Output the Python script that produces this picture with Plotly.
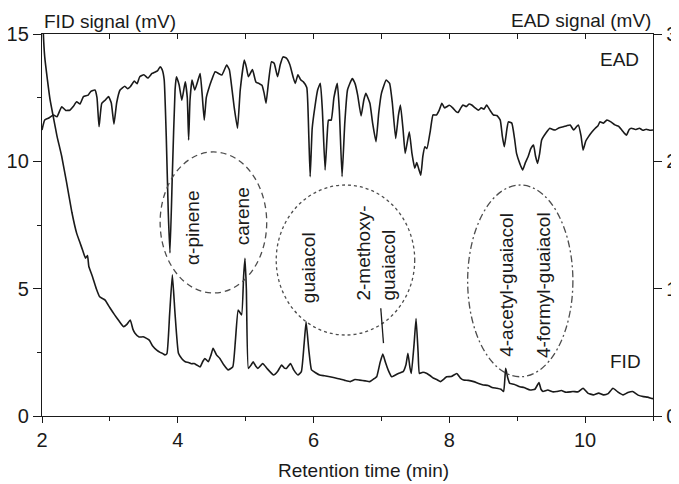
import plotly.graph_objects as go

# ---------------- data ----------------
fid_time = [2.00, 2.02, 2.04, 2.08, 2.12, 2.17, 2.22, 2.29, 2.36, 2.44, 2.51, 2.56, 2.60, 2.64, 2.67, 2.69,
            2.74, 2.80, 2.85, 2.90, 2.93, 3.00, 3.07, 3.13, 3.20, 3.25, 3.30, 3.34, 3.37, 3.43, 3.49, 3.54,
            3.58, 3.63, 3.69, 3.74, 3.78, 3.81, 3.84, 3.88, 3.92, 3.96, 4.01, 4.06, 4.11, 4.16, 4.20, 4.24,
            4.28, 4.33, 4.37, 4.40, 4.45, 4.49, 4.52, 4.57, 4.62, 4.68, 4.74, 4.81, 4.85, 4.89, 4.94, 4.97,
            4.99, 5.01, 5.04, 5.08, 5.11, 5.15, 5.18, 5.25, 5.32, 5.41, 5.47, 5.53, 5.57, 5.60, 5.66, 5.71,
            5.77, 5.82, 5.86, 5.89, 5.93, 5.97, 6.03, 6.09, 6.16, 6.24, 6.31, 6.39, 6.46, 6.54, 6.61, 6.68,
            6.76, 6.83, 6.90, 6.93, 6.98, 7.02, 7.06, 7.10, 7.15, 7.20, 7.25, 7.32, 7.36, 7.39, 7.42, 7.44,
            7.48, 7.51, 7.54, 7.56, 7.61, 7.67, 7.72, 7.77, 7.82, 7.87, 7.92, 7.96, 8.03, 8.11, 8.16, 8.21,
            8.28, 8.36, 8.43, 8.50, 8.57, 8.63, 8.70, 8.76, 8.80, 8.83, 8.86, 8.89, 8.95, 9.04, 9.10, 9.19,
            9.26, 9.32, 9.35, 9.38, 9.45, 9.52, 9.58, 9.65, 9.72, 9.82, 9.90, 9.97, 10.04, 10.12, 10.20, 10.27,
            10.34, 10.41, 10.48, 10.56, 10.63, 10.70, 10.78, 10.86, 10.92, 10.98, 11.00]
fid_signal = [17.0, 15.0, 14.1, 13.2, 12.4, 11.7, 11.0, 10.2, 9.2, 8.0, 7.18, 6.8, 6.5, 6.2, 6.3, 5.87,
              5.5, 5.0, 4.68, 4.6, 4.55, 4.25, 3.97, 3.75, 3.51, 3.6, 3.77, 3.4, 3.25, 3.1, 3.11, 3.05,
              2.98, 2.75, 2.59, 2.50, 2.45, 2.40, 2.45, 4.0, 5.54, 4.0, 2.46, 2.25, 2.13, 2.10, 2.05, 2.06,
              2.00, 1.93, 2.15, 2.26, 2.13, 2.40, 2.66, 2.40, 2.26, 2.00, 1.81, 1.93, 3.0, 4.16, 3.97, 5.5,
              6.19, 5.0, 1.87, 2.0, 2.13, 1.95, 1.87, 2.06, 1.85, 1.61, 1.75, 2.00, 1.88, 1.87, 2.06, 1.80,
              1.61, 1.74, 2.8, 3.70, 2.6, 1.81, 1.70, 1.61, 1.58, 1.54, 1.50, 1.45, 1.40, 1.35, 1.43, 1.41,
              1.38, 1.35, 1.48, 1.54, 2.1, 2.43, 2.1, 1.80, 1.54, 1.60, 1.67, 1.74, 2.0, 2.46, 1.9, 1.67,
              2.8, 3.83, 2.5, 1.67, 1.72, 1.67, 1.58, 1.48, 1.42, 1.35, 1.45, 1.54, 1.55, 1.67, 1.50, 1.41,
              1.40, 1.35, 1.28, 1.22, 1.20, 1.12, 1.09, 1.05, 0.96, 1.87, 1.50, 1.28, 1.25, 1.15, 1.12, 1.02,
              1.05, 1.31, 1.05, 0.96, 1.02, 0.95, 0.96, 1.00, 0.93, 0.96, 0.95, 1.09, 0.90, 0.83, 0.90, 0.83,
              0.88, 1.09, 0.95, 0.83, 0.92, 0.96, 0.82, 0.76, 0.74, 0.69, 0.68]

ead_time = [2.00, 2.04, 2.10, 2.17, 2.22, 2.29, 2.35, 2.41, 2.46, 2.51, 2.56, 2.61, 2.68, 2.72, 2.78, 2.81,
            2.84, 2.88, 2.93, 2.98, 3.02, 3.06, 3.10, 3.15, 3.22, 3.26, 3.30, 3.36, 3.40, 3.44, 3.50, 3.56,
            3.62, 3.66, 3.70, 3.74, 3.77, 3.80, 3.83, 3.86, 3.885, 3.92, 3.96, 3.98, 4.02, 4.06, 4.11, 4.14,
            4.16, 4.18, 4.21, 4.25, 4.30, 4.33, 4.36, 4.39, 4.42, 4.45, 4.50, 4.55, 4.60, 4.65, 4.72, 4.76,
            4.80, 4.83, 4.88, 4.92, 4.98, 5.01, 5.04, 5.10, 5.15, 5.20, 5.24, 5.27, 5.30, 5.34, 5.38, 5.42,
            5.47, 5.51, 5.55, 5.60, 5.65, 5.70, 5.73, 5.77, 5.81, 5.85, 5.90, 5.93, 5.95, 5.98, 6.02, 6.06,
            6.10, 6.13, 6.17, 6.20, 6.22, 6.26, 6.30, 6.35, 6.38, 6.42, 6.46, 6.50, 6.57, 6.61, 6.65, 6.70,
            6.74, 6.77, 6.83, 6.87, 6.92, 6.96, 7.00, 7.07, 7.12, 7.16, 7.21, 7.25, 7.28, 7.32, 7.35, 7.41,
            7.45, 7.49, 7.52, 7.55, 7.58, 7.61, 7.64, 7.67, 7.72, 7.76, 7.81, 7.85, 7.89, 7.93, 7.96, 8.00,
            8.05, 8.10, 8.13, 8.17, 8.20, 8.25, 8.29, 8.33, 8.38, 8.43, 8.47, 8.51, 8.55, 8.60, 8.65, 8.70,
            8.75, 8.78, 8.81, 8.85, 8.87, 8.92, 8.96, 8.99, 9.04, 9.08, 9.12, 9.16, 9.20, 9.24, 9.27, 9.30,
            9.33, 9.36, 9.42, 9.48, 9.52, 9.56, 9.62, 9.68, 9.73, 9.78, 9.83, 9.87, 9.90, 9.94, 9.97, 10.01,
            10.05, 10.10, 10.15, 10.19, 10.22, 10.27, 10.32, 10.38, 10.44, 10.49, 10.54, 10.58, 10.61, 10.65,
            10.68, 10.74, 10.80, 10.85, 10.90, 10.95, 11.00]
ead_signal = [2.246, 2.324, 2.340, 2.364, 2.350, 2.428, 2.400, 2.402, 2.430, 2.468, 2.450, 2.508, 2.520, 2.550, 2.560, 2.500,
              2.272, 2.456, 2.480, 2.508, 2.460, 2.292, 2.460, 2.560, 2.590, 2.570, 2.586, 2.630, 2.610, 2.664, 2.680, 2.654,
              2.690, 2.700, 2.710, 2.742, 2.720, 2.640, 2.200, 1.600, 1.280, 1.900, 2.560, 2.664, 2.600, 2.480, 2.624, 2.500,
              2.168, 2.480, 2.638, 2.560, 2.640, 2.690, 2.520, 2.324, 2.500, 2.560, 2.640, 2.704, 2.690, 2.678, 2.756, 2.720,
              2.560, 2.428, 2.260, 2.560, 2.796, 2.740, 2.664, 2.720, 2.624, 2.610, 2.598, 2.540, 2.456, 2.640, 2.782, 2.770,
              2.664, 2.760, 2.820, 2.810, 2.760, 2.660, 2.612, 2.680, 2.640, 2.624, 2.580, 2.200, 1.880, 2.260, 2.428, 2.560,
              2.612, 2.400, 1.932, 2.200, 2.324, 2.324, 2.500, 2.612, 2.400, 1.880, 2.300, 2.560, 2.650, 2.612, 2.520, 2.356,
              2.480, 2.534, 2.456, 2.300, 2.154, 2.380, 2.534, 2.638, 2.612, 2.460, 2.180, 2.360, 2.442, 2.240, 2.062, 2.232,
              2.060, 1.946, 1.990, 1.940, 1.892, 2.040, 2.114, 2.100, 2.240, 2.364, 2.364, 2.400, 2.456, 2.420, 2.428, 2.440,
              2.420, 2.390, 2.384, 2.420, 2.442, 2.430, 2.450, 2.442, 2.420, 2.402, 2.420, 2.410, 2.442, 2.400, 2.364, 2.360,
              2.324, 2.200, 2.114, 2.260, 2.310, 2.300, 2.180, 2.062, 1.980, 1.932, 1.990, 2.036, 2.100, 2.128, 2.040, 1.984,
              2.060, 2.168, 2.220, 2.260, 2.250, 2.246, 2.264, 2.272, 2.280, 2.286, 2.246, 2.270, 2.286, 2.200, 2.088, 2.160,
              2.194, 2.230, 2.260, 2.280, 2.310, 2.300, 2.324, 2.310, 2.286, 2.276, 2.246, 2.220, 2.206, 2.250,
              2.260, 2.250, 2.260, 2.244, 2.252, 2.244, 2.246]

x_tick_labels = ["2", "4", "6", "8", "10"]
x_tick_values = [2, 4, 6, 8, 10]
fid_tick_values = [0, 5, 10, 15]
ead_tick_values = [0, 1, 2, 3]

compound_labels = ["α-pinene", "carene", "guaiacol", "2-methoxy-<br>guaiacol",
                   "4-acetyl-guaiacol", "4-formyl-guaiacol"]
label_x = [4.215, 4.95, 5.92, 6.92, 8.83, 9.38]
label_y = [7.40, 7.85, 5.81, 6.38, 5.14, 5.14]

# ellipse groups: (x0, x1, y0, y1, dash)
groups_x0 = [3.74, 5.45, 8.27]
groups_x1 = [5.31, 7.49, 9.82]
groups_y0 = [4.83, 3.18, 1.54]
groups_y1 = [10.37, 9.07, 9.07]
groups_dash = ["6px,4px", "dot", "7px,3px,2px,3px"]

FONT = "Liberation Sans, Arial, sans-serif"
INK = "#1a1a1a"

fig = go.Figure()
fig.add_trace(go.Scatter(x=fid_time, y=fid_signal, mode="lines", name="FID",
                         line=dict(color=INK, width=1.6, shape="spline", smoothing=0.4),
                         showlegend=False, xaxis="x", yaxis="y"))
fig.add_trace(go.Scatter(x=ead_time, y=ead_signal, mode="lines", name="EAD",
                         line=dict(color=INK, width=1.6, shape="spline", smoothing=0.4),
                         showlegend=False, xaxis="x", yaxis="y2"))
# carrier for the mirrored top axis
fig.add_trace(go.Scatter(x=[2], y=[0], mode="markers", marker=dict(opacity=0), showlegend=False,
                         hoverinfo="skip", xaxis="x2", yaxis="y"))

shapes = []
for x0, x1, y0, y1, d in zip(groups_x0, groups_x1, groups_y0, groups_y1, groups_dash):
    shapes.append(dict(type="circle", xref="x", yref="y", x0=x0, x1=x1, y0=y0, y1=y1,
                       line=dict(color="#4d4d4d", width=1.3, dash=d)))
# leader line for 2-methoxy-guaiacol
shapes.append(dict(type="line", xref="x", yref="y", x0=6.99, y0=4.23, x1=7.03, y1=2.86,
                   line=dict(color=INK, width=1.3)))

annotations = []
for t, x, y in zip(compound_labels, label_x, label_y):
    annotations.append(dict(text=t, x=x, y=y, xref="x", yref="y", showarrow=False, textangle=-90,
                            xanchor="center", yanchor="middle", align="left",
                            font=dict(family=FONT, size=19, color=INK)))
annotations += [
    dict(text="EAD", x=10.51, y=14.0, xref="x", yref="y", showarrow=False,
         font=dict(family=FONT, size=19, color=INK)),
    dict(text="FID", x=10.59, y=2.14, xref="x", yref="y", showarrow=False,
         font=dict(family=FONT, size=19, color=INK)),
    dict(text="FID signal (mV)", x=0, y=1, xref="paper", yref="paper", xanchor="left",
         yanchor="middle", yshift=13, showarrow=False, font=dict(family=FONT, size=19, color=INK)),
    dict(text="EAD signal (mV)", x=1, y=1, xref="paper", yref="paper", xanchor="right",
         yanchor="middle", yshift=14, showarrow=False, font=dict(family=FONT, size=19, color=INK)),
    dict(text="Retention time (min)", x=0.527, y=0, xref="paper", yref="paper", xanchor="center",
         yanchor="middle", yshift=-54, showarrow=False, font=dict(family=FONT, size=19, color=INK)),
]

axis_common = dict(showgrid=False, zeroline=False, showline=True, linecolor=INK, linewidth=1.3,
                   tickcolor=INK, tickwidth=1.3, automargin=False,
                   tickfont=dict(family=FONT, size=20, color=INK))

# the page body adds an 8 px offset, so the figure is 8 px smaller on each side
fig.update_layout(
    width=671, height=476,
    margin=dict(l=34, r=26, t=26, b=68, autoexpand=False),
    paper_bgcolor="white", plot_bgcolor="white",
    showlegend=False,
    xaxis=dict(range=[2, 11], tickvals=x_tick_values, ticktext=x_tick_labels, ticks="outside", ticklen=6,
               minor=dict(dtick=1, tick0=2, ticks="outside", ticklen=4, tickcolor=INK, tickwidth=1.3),
               anchor="y", **axis_common),
    xaxis2=dict(range=[2, 11], dtick=1, tick0=2, ticks="inside", ticklen=5, showticklabels=False,
                overlaying="x", side="top", anchor="y", **axis_common),
    yaxis=dict(range=[0, 15], tickvals=fid_tick_values, ticks="outside", ticklen=8,
               minor=dict(dtick=2.5, tick0=0, ticks="outside", ticklen=4, tickcolor=INK, tickwidth=1.3),
               anchor="x", **axis_common),
    yaxis2=dict(range=[0, 3], tickvals=ead_tick_values, ticks="outside", ticklen=8,
                overlaying="y", side="right", anchor="x", **axis_common),
    shapes=shapes,
    annotations=annotations,
)

fig.write_html("out.html")
